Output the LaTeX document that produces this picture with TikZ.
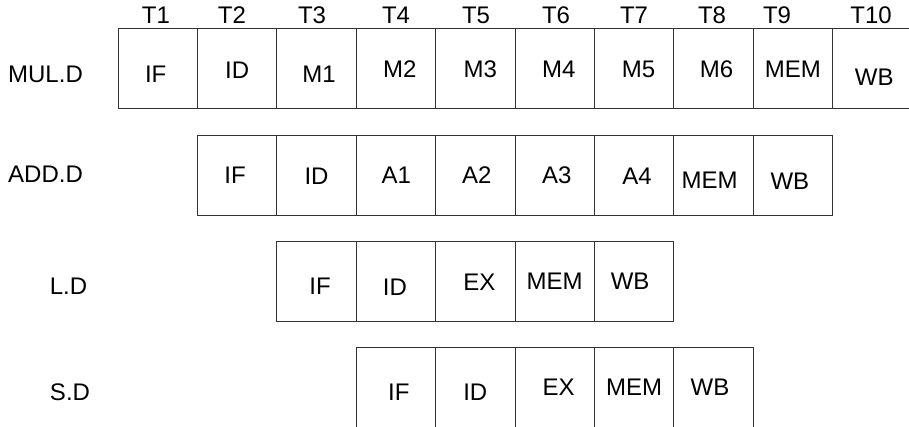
\documentclass[tikz,border=0pt]{standalone}
\usepackage{fontspec}
\setmainfont{Liberation Sans}
\usetikzlibrary{calc}
\tikzset{
  stagebox/.style={draw=black!80, line width=1pt, minimum width=79.4pt,
                   minimum height=80pt, inner sep=0pt, outer sep=0pt},
  stagetext/.style={font=\fontsize{24}{28}\selectfont, text height=17.2pt,
                    text depth=0pt, inner sep=0pt},
}

\begin{document}
\begin{tikzpicture}[x=1pt, y=-1pt]
  \useasboundingbox (0,0) rectangle (909,426);
  \clip (0,0) rectangle (909,426);
  % clock cycles
  \foreach \n/\px [count=\i] in
    {T1/156, T2/232, T3/312, T4/396, T5/476, T6/556, T7/634, T8/712, T9/777, T10/871}
    \node[stagetext] (clk-\i) at (\px,14.5) {\n};
  % MUL.D
  \node[stagetext] (mul) at (45.5,74) {MUL.D};
  \foreach \n/\dx/\dy [count=\i from 0] in
    {IF/-2/5.5, ID/0/1.5, M1/2.5/5.5, M2/4/0, M3/5/0, M4/4/0, M5/4.5/0.5,
     M6/3/0.5, MEM/0/0, WB/2/8} {
    \node[stagebox] (mul-\i) at (157.7+\i*79.4, 68.5) {};
    \node[stagetext] (mul-\i-txt) at ($(mul-\i.center)+(\dx,\dy)$) {\n};
  }
  % ADD.D
  \node[stagetext] (add) at (45.5,174) {ADD.D};
  \foreach \n/\dx/\dy [count=\i from 1] in
    {IF/-2/0, ID/0/0.5, A1/0.5/0, A2/1.5/0, A3/2/0, A4/3/1, MEM/-4/5, WB/-3/5.5} {
    \node[stagebox] (add-\i) at (157.7+\i*79.4, 175) {};
    \node[stagetext] (add-\i-txt) at ($(add-\i.center)+(\dx,\dy)$) {\n};
  }
  % L.D
  \node[stagetext] (ld) at (68.5,286) {L.D};
  \foreach \n/\dx/\dy [count=\i from 2] in
    {IF/3.5/5, ID/-1/5.5, EX/4/0.5, MEM/0/0, WB/-4/0} {
    \node[stagebox] (ld-\i) at (157.7+\i*79.4, 281) {};
    \node[stagetext] (ld-\i-txt) at ($(ld-\i.center)+(\dx,\dy)$) {\n};
  }
  % S.D
  \node[stagetext] (sd) at (70,392) {S.D};
  \foreach \n/\dx/\dy [count=\i from 3] in
    {IF/3/5, ID/0/5, EX/4/0, MEM/0/0, WB/-3.5/0} {
    \node[stagebox] (sd-\i) at (157.7+\i*79.4, 387) {};
    \node[stagetext] (sd-\i-txt) at ($(sd-\i.center)+(\dx,\dy)$) {\n};
  }
\end{tikzpicture}
\end{document}
